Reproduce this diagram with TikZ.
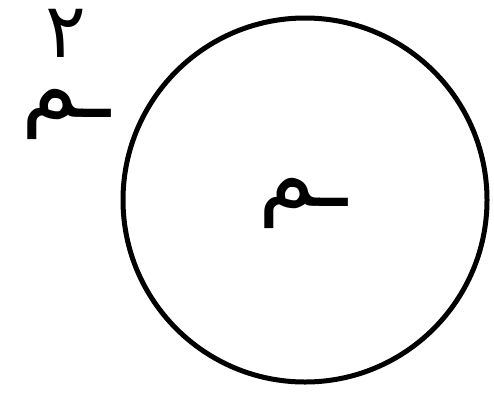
\documentclass[tikz,border=0pt]{standalone}
\usepackage{fontspec}
\newfontfamily\arabicfont[Script=Arabic]{DejaVu Sans}
\TeXXeTstate=1
\usetikzlibrary{positioning}

\begin{document}
\begin{tikzpicture}[x=1pt,y=-1pt]
  \tikzset{
    ring/.style={draw,circle,line width=5pt,minimum size=364pt,inner sep=0pt},
    letter/.style={font=\arabicfont\fontsize{92}{60}\selectfont,inner sep=0pt,align=center}
  }
  \useasboundingbox (0,0) rectangle (494,402);
  \node[ring] (disc) at (305,200) {};
  \node[letter] (mid) at (303,203) {\beginR ـم\endR};
  \node[letter] (mout) at (66,74) {{\fontsize{76}{60}\selectfont\beginR ۲\endR}\\\beginR ـم\endR};
\end{tikzpicture}
\end{document}
